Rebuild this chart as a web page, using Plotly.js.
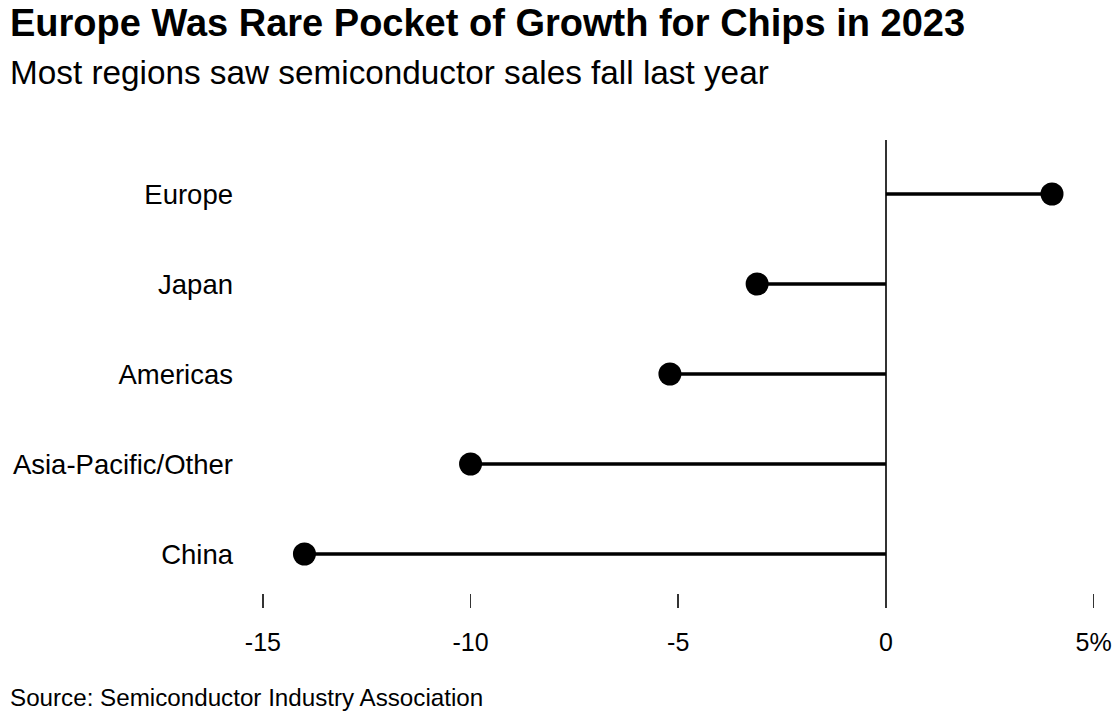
<!DOCTYPE html>
<html>
<head>
<meta charset="utf-8">
<script src="https://cdn.plot.ly/plotly-3.0.1.min.js"></script>
<style>html,body{margin:0;padding:0;background:#fff;}#chart{width:1117px;height:718px;}</style>
</head>
<body>
<div id="chart"></div>
<script>
// Data
const regions = ["Europe", "Japan", "Americas", "Asia-Pacific/Other", "China"];
const growth = [4.0, -3.1, -5.2, -10.0, -14.0];
const tickValues = [-15, -10, -5, 0, 5];
const tickLabels = ["-15", "-10", "-5", "0", "5%"];

const W = 1117, H = 718;
const M = {l: 238, r: 11, t: 140, b: 110};
const pw = W - M.l - M.r, ph = H - M.t - M.b;
const px = v => (v - M.l) / pw;          // pixel x -> paper x
const py = v => (H - M.b - v) / ph;      // pixel y -> paper y

const FONT = "Liberation Sans, Arial, Helvetica, sans-serif";

// stems built from data
const stemX = [], stemY = [];
regions.forEach((r, i) => { stemX.push(0, growth[i], null); stemY.push(r, r, null); });

const traces = [
  {type: "scatter", mode: "lines", x: stemX, y: stemY, line: {color: "#000", width: 3.5},
   hoverinfo: "skip", showlegend: false},
  {type: "scatter", mode: "markers", x: growth, y: regions,
   marker: {color: "#000", size: 23}, showlegend: false}
];

const layout = {
  width: W, height: H,
  margin: M,
  paper_bgcolor: "#fff", plot_bgcolor: "#fff",
  font: {family: FONT, color: "#000"},
  showlegend: false,
  xaxis: {
    range: [-15.6, 5.3], tickvals: tickValues, ticktext: tickLabels,
    ticks: "inside", ticklen: 14, tickwidth: 1.5, tickcolor: "#333",
    showgrid: false, showline: false,
    zeroline: true, zerolinecolor: "#333", zerolinewidth: 1.5,
    tickfont: {size: 25, color: "#000"}, ticklabelstandoff: 17, fixedrange: true
  },
  yaxis: {
    type: "category", categoryorder: "array", categoryarray: regions,
    range: [4.6, -0.6], showgrid: false, zeroline: false, showline: false,
    ticks: "", tickfont: {size: 27.5, color: "#000"}, ticklabelstandoff: 4, fixedrange: true
  },
  annotations: [
    {xref: "paper", yref: "paper", x: px(8), y: py(23), xanchor: "left", yanchor: "middle",
     text: "<b>Europe Was Rare Pocket of Growth for Chips in 2023</b>", showarrow: false,
     font: {size: 38, color: "#000", family: FONT}},
    {xref: "paper", yref: "paper", x: px(8), y: py(72), xanchor: "left", yanchor: "middle",
     text: "Most regions saw semiconductor sales fall last year", showarrow: false,
     font: {size: 33.3, color: "#000", family: FONT}},
    {xref: "paper", yref: "paper", x: px(8), y: py(697), xanchor: "left", yanchor: "middle",
     text: "Source: Semiconductor Industry Association", showarrow: false,
     font: {size: 24.2, color: "#000", family: FONT}}
  ]
};

Plotly.newPlot("chart", traces, layout, {displayModeBar: false, staticPlot: true});
</script>
</body>
</html>
